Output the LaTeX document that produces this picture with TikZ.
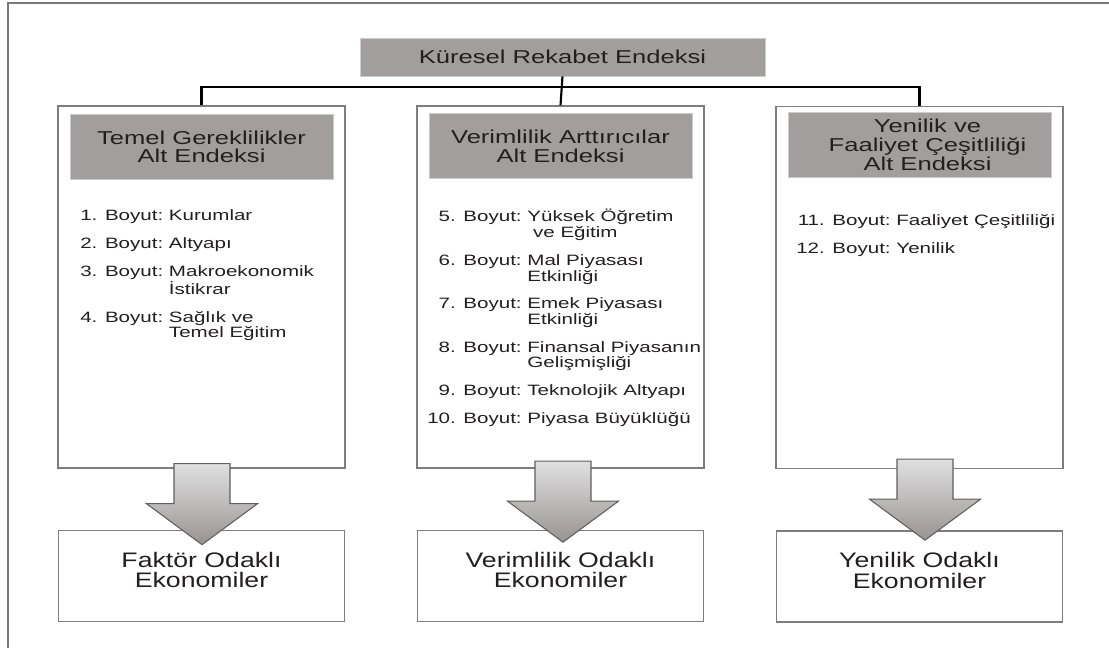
\documentclass[tikz,border=0pt]{standalone}
\usepackage{fontspec}
\setmainfont{Liberation Sans}
\newfontfamily\widefont[FakeStretch=1.37]{Liberation Sans}
\newfontfamily\resfont[FakeStretch=1.27]{Liberation Sans}
\usepackage{xcolor}
\usetikzlibrary{positioning,calc}
\definecolor{hdrgray}{RGB}{163,158,158}
\definecolor{hdrline}{RGB}{205,205,205}
\definecolor{boxline}{RGB}{125,125,125}
\definecolor{txt}{RGB}{35,31,32}
\definecolor{arrowtop}{RGB}{224,224,224}
\definecolor{arrowbot}{RGB}{152,147,147}
\definecolor{arrowline}{RGB}{95,95,95}
\definecolor{frameline}{RGB}{120,120,120}

\begin{document}
\begin{tikzpicture}[
    x=0.75pt, y=-0.75pt,
    title/.style={rectangle, fill=hdrgray, draw=hdrline, line width=0.6pt, minimum width=303.75pt, minimum height=28.5pt, inner sep=0pt, text=txt, font=\widefont\fontsize{14}{14}\selectfont},
    column/.style={rectangle, draw=boxline, line width=1pt, fill=white, minimum width=215.25pt, minimum height=271.5pt, inner sep=0pt},
    header/.style={rectangle, fill=hdrgray, draw=hdrline, line width=0.6pt, minimum width=197.25pt, minimum height=48.75pt, inner sep=0pt, align=center, text=txt, font=\widefont\fontsize{14}{14}\selectfont},
    items/.style={inner sep=0pt, anchor=base west, text=txt, font=\widefont\fontsize{11.25}{11.25}\selectfont},
    result/.style={rectangle, draw=boxline, line width=1pt, fill=white, minimum width=214.5pt, minimum height=68.25pt, inner sep=0pt, align=center, text depth=9pt, text=txt, font=\resfont\fontsize{15.75}{15.5}\selectfont},
    bus/.style={line width=1.6pt, black},
    bigarrow/.style={draw=arrowline, line width=0.8pt, top color=arrowtop, middle color=arrowbot, bottom color=arrowbot},
    frame/.style={frameline, line width=1.1pt}
]
    \useasboundingbox (0,0) rectangle (1109,648);
    \draw[frame] (8,648) -- (8,3) -- (1109,3);

    % Index
    \node[title] (title) at (562.5,57) {Küresel Rekabet Endeksi};

    % Sub-indices
    \node[column] (col1) at (201.5,287) {};
    \node[column] (col2) at (560.5,287) {};
    \node[column] (col3) at (919.5,287.5) {};
    \node[header, below=6.5pt of col1.north] (hdr1) {Temel Gereklilikler\\Alt Endeksi};
    \node[header, below=6pt of col2.north] (hdr2) {Verimlilik Arttırıcılar\\Alt Endeksi};
    \node[header, below=4.5pt of col3.north] (hdr3) {\hspace*{12pt}Yenilik ve\\\hspace*{12pt}Faaliyet Çeşitliliği\\\hspace*{12pt}Alt Endeksi};

    % Dimensions
    \node[items] (dims1) at (80,221) {\begin{tabular}[t]{@{}r@{\ }l@{}}
        1. Boyut: & Kurumlar\\[9.4pt]
        2. Boyut: & Altyapı\\[9.4pt]
        3. Boyut: & Makroekonomik\\
                  & İstikrar\\[9.4pt]
        4. Boyut: & Sağlık ve\\
                  & Temel Eğitim
    \end{tabular}};
    \node[items] (dims2) at (427,222) {\begin{tabular}[t]{@{}r@{\ }l@{}}
        5. Boyut: & Yüksek Öğretim\\
                  & \ ve Eğitim\\[9.4pt]
        6. Boyut: & Mal Piyasası\\
                  & Etkinliği\\[9.4pt]
        7. Boyut: & Emek Piyasası\\
                  & Etkinliği\\[9.4pt]
        8. Boyut: & Finansal Piyasanın\\
                  & Gelişmişliği\\[9.4pt]
        9. Boyut: & Teknolojik Altyapı\\[9.4pt]
        10. Boyut: & Piyasa Büyüklüğü
    \end{tabular}};
    \node[items] (dims3) at (796,226) {\begin{tabular}[t]{@{}r@{\ }l@{}}
        11. Boyut: & Faaliyet Çeşitliliği\\[9.4pt]
        12. Boyut: & Yenilik
    \end{tabular}};

    % Economies
    \node[result, below=45.75pt of col1] (res1) {Faktör Odaklı\\Ekonomiler};
    \node[result, below=45.75pt of col2] (res2) {Verimlilik Odaklı\\Ekonomiler};
    \node[result, below=45.75pt of col3] (res3) {Yenilik Odaklı\\Ekonomiler};

    % Tree lines
    \draw[bus] (title.south) -- (col2.north);
    \draw[bus] (col1.north) -- ++(0,-18) -| (col3.north);

    % Block arrows
    \foreach \c/\dx/\dy in {1/0.5/0, 2/2.5/-2.5, 3/5.5/-5}{
        \path[bigarrow] ($(col\c.south)+(\dx-28,\dy-5)$) -- ++(56,0) -- ++(0,40) -- ++(27.5,0)
            -- ++(-55.5,41) -- ++(-55.5,-41) -- ++(27.5,0) -- cycle;
    }
\end{tikzpicture}
\end{document}
